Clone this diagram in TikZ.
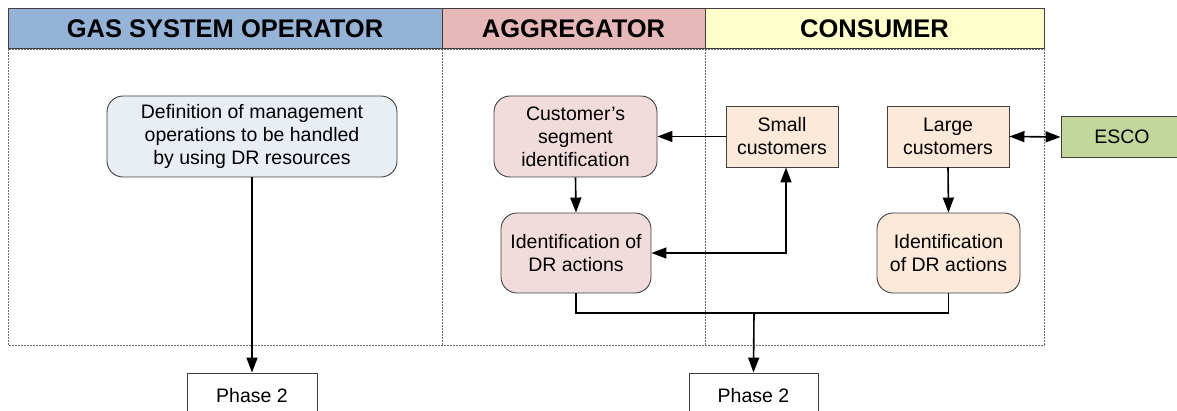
\documentclass[tikz,border=0pt]{standalone}
\usepackage{fontspec}
\setmainfont{Liberation Sans}
\usetikzlibrary{arrows.meta,calc}

\definecolor{gsoblue}{HTML}{95B3D7}
\definecolor{aggred}{HTML}{E6B9B8}
\definecolor{conyellow}{HTML}{FFFFCC}
\definecolor{defblue}{HTML}{E9EEF5}
\definecolor{aggpink}{HTML}{F2DCDB}
\definecolor{conpeach}{HTML}{FDE9D9}
\definecolor{escogreen}{HTML}{C3D69B}
\definecolor{edgegray}{HTML}{404040}

\begin{document}
\begin{tikzpicture}[x=1pt,y=-1pt,
  hdr/.style={draw=edgegray,line width=1pt,inner sep=0pt,
    font=\fontsize{25.5}{28}\selectfont\bfseries},
  lane/.style={draw=gray!85!black,line width=0.9pt,dash pattern=on 2pt off 1pt},
  roundbox/.style={draw=edgegray,line width=0.9pt,rounded corners=16pt,
    align=center,inner sep=2pt,font=\fontsize{19.5}{23}\selectfont},
  plainbox/.style={draw=edgegray,line width=0.9pt,
    align=center,inner sep=2pt,font=\fontsize{19.5}{23}\selectfont},
  tip/.tip={Triangle[length=15pt 0,width=11pt 0]},
  flow/.style={line width=1.6pt,-tip},
  flowboth/.style={line width=1.6pt,tip-tip},
  link/.style={line width=1.6pt}
]
\useasboundingbox (0,0) rectangle (1177,411);
\clip (0,0) rectangle (1177,411);

% swimlane frame
\draw[lane] (8,49) rectangle (1044,345);
\draw[lane] (442,49) -- (442,345);
\draw[lane] (705,49) -- (705,345);

% lane headers
\node[hdr,fill=gsoblue,minimum width=434,minimum height=40] (hgso) at (225,29) {GAS SYSTEM OPERATOR};
\node[hdr,fill=aggred,minimum width=263,minimum height=40] (hagg) at (573.5,29) {AGGREGATOR};
\node[hdr,fill=conyellow,minimum width=339,minimum height=40] (hcon) at (874.5,29) {CONSUMER};

% gas system operator
\node[roundbox,fill=defblue,minimum width=290,minimum height=81] (def) at (252,136.5)
  {Definition of management\\operations to be handled\\by using DR resources};
\node[plainbox,fill=white,minimum width=130,minimum height=46] (ph1) at (252,396) {Phase 2};

% aggregator
\node[roundbox,fill=aggpink,minimum width=163,minimum height=81] (seg) at (575.5,136.5)
  {Customer’s\\segment\\identification};
\node[roundbox,fill=aggpink,minimum width=150,minimum height=80] (idagg) at (576,253)
  {Identification of\\DR actions};

% consumer
\node[plainbox,fill=conpeach,minimum width=112,minimum height=61] (small) at (782,136.5)
  {Small\\customers};
\node[plainbox,fill=conpeach,minimum width=122,minimum height=61] (large) at (948,136.5)
  {Large\\customers};
\node[roundbox,fill=conpeach,minimum width=143,minimum height=80] (idcon) at (948.5,253)
  {Identification\\of DR actions};
\node[plainbox,fill=escogreen,minimum width=122,minimum height=41] (esco) at (1122,137)
  {ESCO};
\node[plainbox,fill=white,minimum width=129,minimum height=46] (ph2) at (753.5,396) {Phase 2};

% connectors
\coordinate (smallfoot) at ($(small.south)+(4,0)$);
\coordinate (merge) at (754,313);

\draw[flow] (def.south) -- (ph1.north);
\draw[flow] (small.west) -- (seg.east);
\draw[flow] (seg.south) -- (idagg.north);
\draw[flowboth] (idagg.east) -| (smallfoot);
\draw[flowboth] (large.east) -- (esco.west);
\draw[flow] (large.south) -- (idcon.north);
\draw[link] (idagg.south) |- (merge) -| (idcon.south);
\draw[flow] (merge) -- (ph2.north);
\end{tikzpicture}
\end{document}
